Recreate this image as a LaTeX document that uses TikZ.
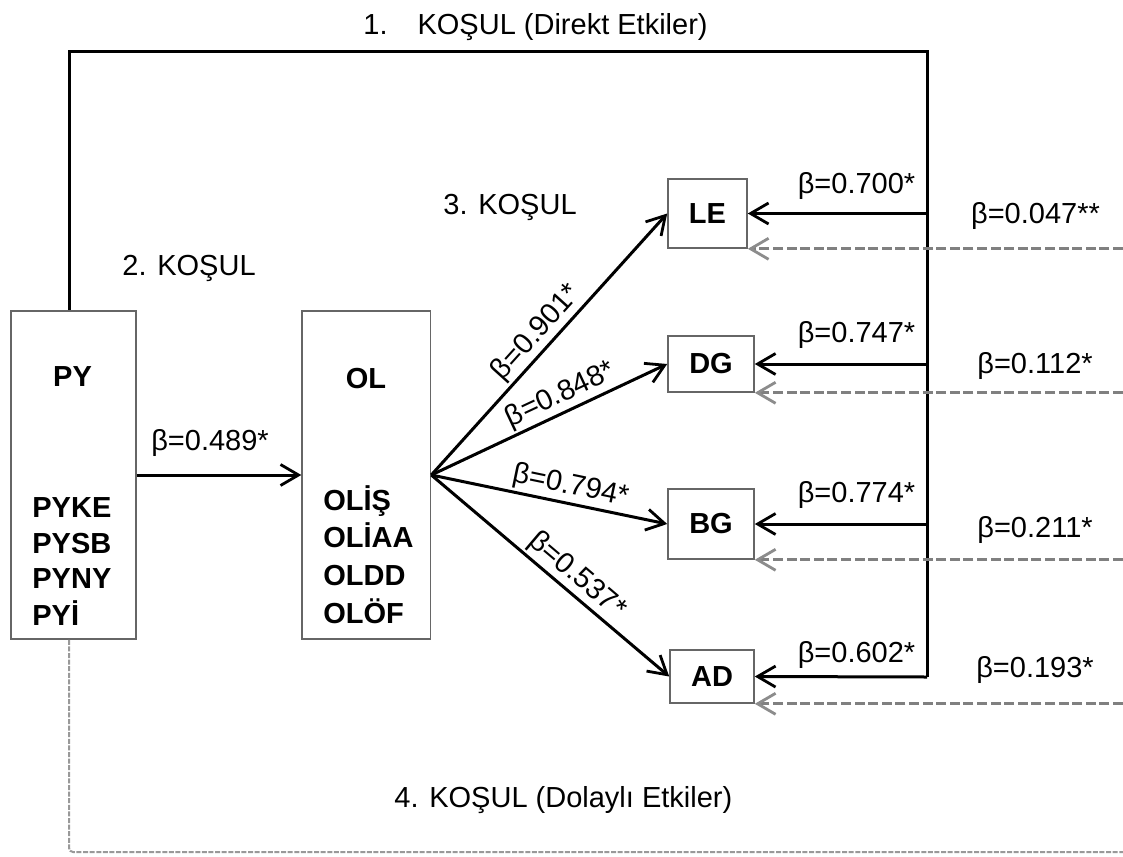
\documentclass[tikz,border=0pt]{standalone}
\usepackage{fontspec}
\setmainfont{Liberation Sans}
\usetikzlibrary{arrows.meta}
\begin{document}
\begin{tikzpicture}[x=0.5pt,y=-0.5pt,
  font=\fontsize{14.5}{17.4}\selectfont,
  box/.style={draw=black!60, line width=0.8pt, inner sep=0pt, font=\fontsize{14.5}{17.4}\selectfont\bfseries},
  bold/.style={inner sep=0pt, font=\fontsize{14.5}{17.4}\selectfont\bfseries},
  lbl/.style={inner sep=0pt},
  tipk/.style={-{Straight Barb[length=9pt,width=10.5pt,line width=1.4pt]}},
  conn/.style={line width=1.5pt, black, tipk},
  dconn/.style={line width=1.5pt, draw=black!50, dash pattern=on 5pt off 1.8pt,
     -{Straight Barb[length=9pt,width=10.5pt,line width=1.4pt,color=black!45]}},
  ind/.style={line width=1pt, draw=black!40, dash pattern=on 2.5pt off 0.8pt, rounded corners=2pt},
  slab/.style={sloped, above, inner sep=1pt}
]
\fill[white] (0,0) rectangle (1123,856);
\useasboundingbox (0,0) rectangle (1123,856);

% boxes
\node[box, minimum width=62.5pt, minimum height=164pt] (py) at (73.5,475) {};
\node[box, minimum width=64.2pt, minimum height=164pt] (ol) at (366.3,475) {};
\node[box, minimum width=39.5pt, minimum height=34.5pt] (le) at (707.5,213.5) {LE};
\node[box, minimum width=43pt, minimum height=28pt] (dg) at (711,364) {DG};
\node[box, minimum width=43pt, minimum height=35pt] (bg) at (711,524) {BG};
\node[box, minimum width=42pt, minimum height=26.5pt] (ad) at (712,676.5) {AD};

% box texts
\node[bold, anchor=base] (pyt) at (72.5,386) {PY};
\node[bold, anchor=base west] (py1) at (32,517) {PYKE};
\node[bold, anchor=base west] (py2) at (32,553) {PYSB};
\node[bold, anchor=base west] (py3) at (32,588) {PYNY};
\node[bold, anchor=base west] (py4) at (32,625) {PYİ};
\node[bold, anchor=base] (olt) at (366,388) {OL};
\node[bold, anchor=base west] (ol1) at (323,510) {OLİŞ};
\node[bold, anchor=base west] (ol2) at (323,547) {OLİAA};
\node[bold, anchor=base west] (ol3) at (323,585) {OLDD};
\node[bold, anchor=base west] (ol4) at (323,623) {OLÖF};

% condition labels
\node[lbl, anchor=base west] (k1) at (363,35) {1.\hspace{15pt}KOŞUL (Direkt Etkiler)};
\node[lbl, anchor=base west] (k2) at (122,275) {2. KOŞUL};
\node[lbl, anchor=base west] (k3) at (443,214) {3. KOŞUL};
\node[lbl, anchor=base west] (k4) at (394,807) {4. KOŞUL (Dolaylı Etkiler)};

% coordinates
\coordinate (tr) at (927,52);
\coordinate (vb) at (927,677);
\coordinate (re) at (1123,0);
\coordinate (bl) at (0,852);

% condition 1 line
\draw[line width=1.5pt] ([xshift=-2.25pt]py.north) |- (tr) -- (vb);
\draw[conn] (vb |- le.east) -- (le.east);
\draw[conn] (vb |- dg.east) -- (dg.east);
\draw[conn] (vb |- bg.east) -- (bg.east);
\draw[conn] (vb) -- (ad.east);

% condition 2
\draw[conn] (py.east) -- (ol.east -| ol.west);
\node[lbl, anchor=base] (b0) at (210,450) {β=0.489*};

% condition 3
\draw[conn] (ol.east) -- node[slab, pos=0.5] (b1) {β=0.901*} (le.west);
\draw[conn] (ol.east) -- node[slab, pos=0.58] (b2) {β=0.848*} (dg.west);
\draw[conn] (ol.east) -- node[slab, pos=0.575] (b3) {β=0.794*} (bg.west);
\draw[conn] (ol.east) -- node[slab, pos=0.565] (b4) {β=0.537*} (ad.west);

% right labels
\node[lbl, anchor=base] (r1) at (856.5,193) {β=0.700*};
\node[lbl, anchor=base] (r2) at (856.5,342) {β=0.747*};
\node[lbl, anchor=base] (r3) at (856.5,502) {β=0.774*};
\node[lbl, anchor=base] (r4) at (856.5,662) {β=0.602*};
\node[lbl, anchor=base] (s1) at (1035.5,223) {β=0.047**};
\node[lbl, anchor=base] (s2) at (1035,373) {β=0.112*};
\node[lbl, anchor=base] (s3) at (1035,537) {β=0.211*};
\node[lbl, anchor=base] (s4) at (1035,677) {β=0.193*};

% condition 4 dashed
\draw[ind] ([xshift=-2.25pt]py.south) |- (bl -| re);
\draw[dconn] (le.south east -| re) -- (le.south east);
\draw[dconn] (dg.south east -| re) -- (dg.south east);
\draw[dconn] (bg.south east -| re) -- (bg.south east);
\draw[dconn] (ad.south east -| re) -- (ad.south east);
\end{tikzpicture}
\end{document}
